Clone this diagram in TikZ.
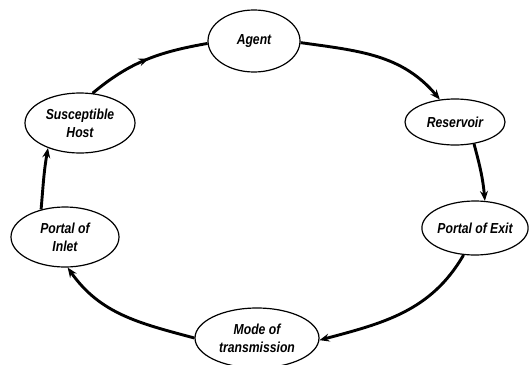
\documentclass[tikz,border=0pt]{standalone}
\usepackage{fontspec}
\setmainfont{Liberation Sans}[FakeStretch=0.84]
\usetikzlibrary{shapes.geometric,arrows.meta,decorations.markings}
\begin{document}
\begin{tikzpicture}[x=1pt,y=1pt,
  stage/.style={ellipse,draw,line width=1.2pt,inner sep=0pt,align=center,
    font=\fontsize{14.5}{18}\selectfont\bfseries\itshape},
  link/.style={line width=2.9pt,-{Stealth[length=10pt,width=8pt,inset=3.5pt]}},
  midlink/.style={line width=2.9pt,postaction={decorate,decoration={markings,
    mark=at position 0.52 with {\arrow{Stealth[length=10pt,width=8pt,inset=3.5pt]}}}}}]
\useasboundingbox (0,0) rectangle (529,-364);
\node[stage,minimum width=92pt,minimum height=62pt] (agent) at (254,-41) {Agent};
\node[stage,minimum width=100pt,minimum height=46pt] (reservoir) at (455,-122) {Reservoir};
\node[stage,minimum width=106pt,minimum height=54pt] (exit) at (475,-228) {Portal of Exit};
\node[stage,minimum width=124pt,minimum height=60pt] (mode) at (257,-338) {Mode of\\transmission};
\node[stage,minimum width=108pt,minimum height=60pt] (inlet) at (65,-237) {Portal of\\Inlet};
\node[stage,minimum width=110pt,minimum height=60pt] (host) at (80,-123) {Susceptible\\Host};
\draw[midlink] (host.67) to[out=40,in=190] (agent.183);
\draw[link] (agent.-2) to[out=-8,in=130] (reservoir.124);
\draw[link] (reservoir.-49) to[out=-75,in=95] (exit.70);
\draw[link] (exit.-113) to[out=-120,in=15] (mode.-2);
\draw[link] (mode.180) to[out=165,in=-55] (inlet.-85);
\draw[link] (inlet.131) to[out=85,in=-100] (host.-142);
\end{tikzpicture}
\end{document}
